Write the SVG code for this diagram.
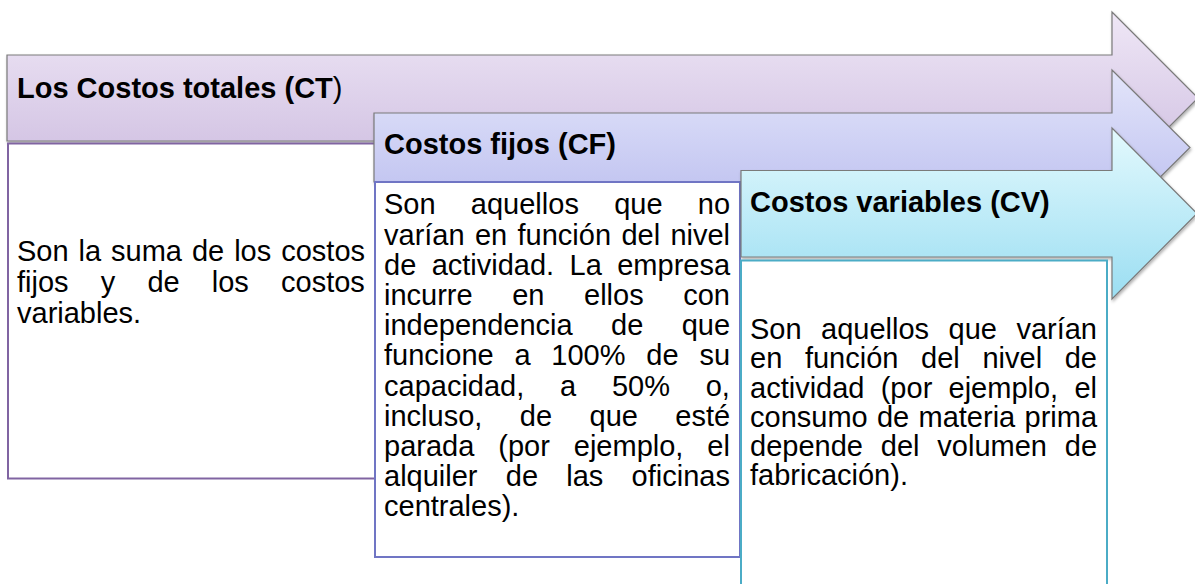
<svg xmlns="http://www.w3.org/2000/svg" width="1195" height="584" viewBox="0 0 1195 584">
<style>
text{font-family:"Liberation Sans",Arial,sans-serif;font-size:29px;fill:#000}
.h{font-weight:bold}
.n{font-weight:normal}
.arrow{stroke:#7a7a7a;stroke-width:1.2;filter:url(#sh)}
.body{fill:#fff;stroke-width:2}
</style>
<defs>
<filter id="sh" x="-5%" y="-10%" width="115%" height="130%">
<feDropShadow dx="1" dy="2" stdDeviation="1.5" flood-color="#000" flood-opacity="0.3"/>
</filter>
<linearGradient id="gCT" x1="0" y1="0" x2="0" y2="1">
<stop offset="0" stop-color="#EFE7F6"/><stop offset="1" stop-color="#CCBBDF"/>
</linearGradient>
<linearGradient id="gCF" x1="0" y1="0" x2="0" y2="1">
<stop offset="0" stop-color="#E3E5FA"/><stop offset="1" stop-color="#B8BBEE"/>
</linearGradient>
<linearGradient id="gCV" x1="0" y1="0" x2="0" y2="1">
<stop offset="0" stop-color="#E3F9FD"/><stop offset="1" stop-color="#9BDEF2"/>
</linearGradient>
</defs>
<rect width="1195" height="584" fill="#fff"/>
<g id="ct">
<polygon class="arrow" fill="url(#gCT)" points="7,55 1112,55 1112,12 1198,98 1112,184 1112,141 7,141"/>
<rect class="body" stroke="#8064A2" x="8" y="143.5" width="368" height="335"/>
<text class="h" x="17" y="98">Los Costos totales (CT<tspan class="n">)</tspan></text>
<text x="17" y="261" word-spacing="1.9">Son la suma de los costos</text>
<text x="17" y="292" word-spacing="24.1">fijos y de los costos</text>
<text x="17" y="322.5">variables.</text>
</g>
<g id="cf">
<polygon class="arrow" fill="url(#gCF)" points="374,113 1112,113 1112,70 1190,147.5 1112,225 1112,182 374,182"/>
<rect class="body" stroke="#7075C4" x="375" y="182" width="365" height="375"/>
<text class="h" x="384" y="154">Costos fijos (CF)</text>
<text x="384" y="214.3" word-spacing="27.2">Son aquellos que no</text>
<text x="384" y="244.5" word-spacing="2.28">varían en función del nivel</text>
<text x="384" y="274.7" word-spacing="7.34">de actividad. La empresa</text>
<text x="384" y="304.9" word-spacing="31.5">incurre en ellos con</text>
<text x="384" y="335.1" word-spacing="30.3">independencia de que</text>
<text x="384" y="365.3" word-spacing="12.74">funcione a 100% de su</text>
<text x="384" y="395.5" word-spacing="27.7">capacidad, a 50% o,</text>
<text x="384" y="425.7" word-spacing="29.4">incluso, de que esté</text>
<text x="384" y="455.9" word-spacing="15.9">parada (por ejemplo, el</text>
<text x="384" y="486.1" word-spacing="20.2">alquiler de las oficinas</text>
<text x="384" y="516.3">centrales).</text>
</g>
<g id="cv">
<polygon class="arrow" fill="url(#gCV)" points="741,170.5 1112,170.5 1112,128 1197,213.5 1112,299 1112,257 741,257"/>
<rect class="body" stroke="#4BACC6" x="741" y="260.5" width="366" height="340"/>
<text class="h" x="750" y="212">Costos variables (CV)</text>
<text x="750" y="339.3" word-spacing="11.4">Son aquellos que varían</text>
<text x="750" y="368.4" word-spacing="14.6">en función del nivel de</text>
<text x="750" y="397.5" word-spacing="8.2">actividad (por ejemplo, el</text>
<text x="750" y="426.6" word-spacing="1.24">consumo de materia prima</text>
<text x="750" y="455.7" word-spacing="9.8">depende del volumen de</text>
<text x="750" y="484.8">fabricación).</text>
</g>
<g id="connectors"/>
</svg>
